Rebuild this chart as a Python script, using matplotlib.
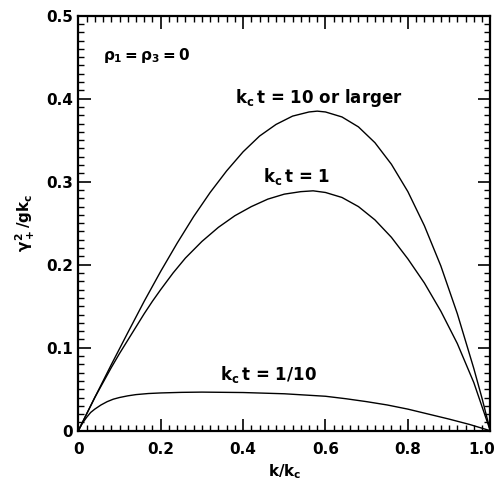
import numpy as np
import matplotlib
matplotlib.use('Agg')
import matplotlib.pyplot as plt
import matplotlib.transforms as mtransforms
from matplotlib.ticker import MultipleLocator

plt.rcParams['font.family'] = ['DejaVu Sans']
plt.rcParams['font.weight'] = 'bold'
plt.rcParams['mathtext.fontset'] = 'custom'
plt.rcParams['mathtext.rm'] = 'DejaVu Sans:bold'
plt.rcParams['mathtext.it'] = 'DejaVu Sans:bold'
plt.rcParams['mathtext.bf'] = 'DejaVu Sans:bold'

# kc t = 10 or larger
k_big = [0, 0.04, 0.08, 0.12, 0.16, 0.20, 0.24, 0.28, 0.32, 0.36, 0.40, 0.44, 0.48,
         0.52, 0.56, 0.58, 0.60, 0.64, 0.68, 0.72, 0.76, 0.80, 0.84, 0.88, 0.92,
         0.96, 0.98, 1.0]
g_big = [0, 0.040, 0.0795, 0.118, 0.156, 0.192, 0.226, 0.258, 0.287, 0.313, 0.336,
         0.355, 0.369, 0.379, 0.384, 0.385, 0.384, 0.378, 0.366, 0.347, 0.321,
         0.288, 0.247, 0.1985, 0.141, 0.075, 0.039, 0]

# kc t = 1
k_one = [0, 0.02, 0.04, 0.06, 0.08, 0.10, 0.12, 0.14, 0.16, 0.18, 0.20, 0.23, 0.26,
         0.30, 0.34, 0.38, 0.42, 0.46, 0.50, 0.54, 0.57, 0.60, 0.64, 0.68, 0.72,
         0.76, 0.80, 0.84, 0.88, 0.92, 0.96, 1.0]
g_one = [0, 0.020, 0.040, 0.058, 0.076, 0.093, 0.109, 0.125, 0.141, 0.156, 0.170,
         0.190, 0.208, 0.228, 0.245, 0.259, 0.270, 0.279, 0.285, 0.288, 0.289,
         0.287, 0.281, 0.270, 0.254, 0.233, 0.207, 0.178, 0.144, 0.105, 0.058, 0]

# kc t = 1/10
k_tenth = [0, 0.01, 0.02, 0.03, 0.04, 0.055, 0.07, 0.085, 0.10, 0.12, 0.14, 0.17,
           0.20, 0.25, 0.30, 0.40, 0.50, 0.60, 0.65, 0.70, 0.75, 0.80, 0.85, 0.90,
           0.95, 1.0]
g_tenth = [0, 0.009, 0.016, 0.022, 0.026, 0.031, 0.035, 0.038, 0.040, 0.042, 0.0435,
           0.0448, 0.0455, 0.0462, 0.0465, 0.046, 0.0445, 0.0415, 0.0385, 0.035,
           0.031, 0.026, 0.020, 0.014, 0.0075, 0]

fig = plt.figure(figsize=(5.01, 4.84), dpi=100)
ax = fig.add_axes([0.1563, 0.1101, 0.8223, 0.8575])

for xs, ys in [(k_big, g_big), (k_one, g_one), (k_tenth, g_tenth)]:
    ax.plot(xs, ys, color='black', lw=1.0)

ax.set_xlim(0, 1.0)
ax.set_ylim(0, 0.5)
ax.xaxis.set_minor_locator(MultipleLocator(0.02))
ax.yaxis.set_minor_locator(MultipleLocator(0.01))
ax.set_xticks([0, 0.2, 0.4, 0.6, 0.8, 1.0])
ax.set_xticklabels(['0', '0.2', '0.4', '0.6', '0.8', '1.0'])
ax.set_yticks([0, 0.1, 0.2, 0.3, 0.4, 0.5])
ax.set_yticklabels(['0', '0.1', '0.2', '0.3', '0.4', '0.5'])

ax.tick_params(which='both', direction='in', top=True, right=True, labelsize=11)
ax.tick_params(which='major', length=9, width=1.2)
ax.tick_params(which='minor', length=4.5, width=1.0)
ax.tick_params(axis='x', pad=8)
ax.tick_params(axis='y', pad=4)
for s in ax.spines.values():
    s.set_linewidth(1.6)

# nudge the last x label so it stays inside the figure
last = ax.get_xticklabels()[-1]
last.set_transform(last.get_transform() +
                   mtransforms.ScaledTranslation(-6 / 72, 0, fig.dpi_scale_trans))

ax.set_xlabel(r'$k/k_c$', fontsize=11, labelpad=4)
ax.set_ylabel(r'$\gamma_+^2/gk_c$', fontsize=11, labelpad=6)

ax.text(0.06, 0.452, r'$\rho_1 = \rho_3 = 0$', fontsize=11, va='center')
ax.text(0.381, 0.401, r'$k_c\,t$ = 10 or larger', fontsize=12, va='center')
ax.text(0.449, 0.306, r'$k_c\,t$ = 1', fontsize=12, va='center')
ax.text(0.345, 0.068, r'$k_c\,t$ = 1/10', fontsize=12, va='center')

fig.savefig('out.png', dpi=100)
